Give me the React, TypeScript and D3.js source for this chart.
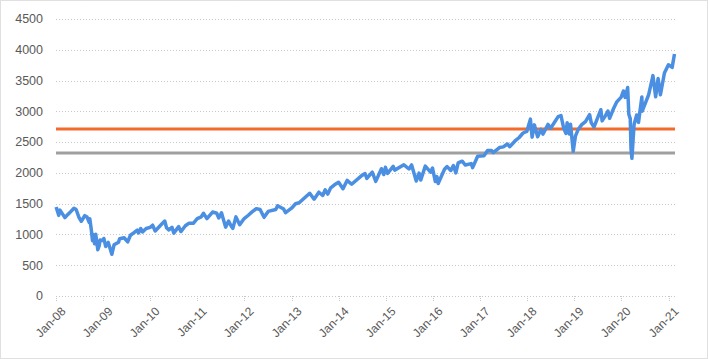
import React from "react";
import * as d3 from "d3";

const W = 708;
const H = 359;

const yTicks = [0, 500, 1000, 1500, 2000, 2500, 3000, 3500, 4000, 4500];
const xTickYears = [2008, 2009, 2010, 2011, 2012, 2013, 2014, 2015, 2016, 2017, 2018, 2019, 2020, 2021];

const refOrange = 2713;
const refGray = 2323;

const dates: string[] = [
  "2008-01-02","2008-01-22","2008-02-01","2008-02-15","2008-03-10","2008-03-31","2008-04-15","2008-05-19","2008-06-05","2008-06-27","2008-07-15","2008-07-31","2008-08-11","2008-08-29","2008-09-15","2008-09-19","2008-09-29","2008-10-10","2008-10-13","2008-10-27","2008-11-04","2008-11-20","2008-12-01","2008-12-08","2008-12-31",
  "2009-01-06","2009-01-20","2009-02-09","2009-03-09","2009-03-26","2009-04-30","2009-05-08","2009-06-12","2009-07-10","2009-07-31","2009-08-28","2009-09-22","2009-10-02","2009-10-19","2009-11-02","2009-11-30","2009-12-31",
  "2010-01-19","2010-02-08","2010-03-31","2010-04-23","2010-05-07","2010-05-25","2010-06-18","2010-07-02","2010-08-09","2010-08-26","2010-09-30","2010-10-29","2010-11-30","2010-12-31",
  "2011-01-31","2011-02-18","2011-03-16","2011-04-29","2011-05-31","2011-06-16","2011-07-07","2011-08-08","2011-08-31","2011-09-22","2011-10-03","2011-10-27","2011-11-25","2011-12-30",
  "2012-01-31","2012-02-29","2012-04-02","2012-05-01","2012-06-01","2012-07-03","2012-08-31","2012-09-14","2012-10-31","2012-11-15","2012-12-31",
  "2013-01-31","2013-02-28","2013-03-28","2013-05-21","2013-06-24","2013-07-31","2013-08-30","2013-09-18","2013-10-08","2013-10-31","2013-11-29","2013-12-31",
  "2014-02-03","2014-03-07","2014-04-11","2014-06-30","2014-07-24","2014-08-07","2014-09-18","2014-10-15","2014-11-28","2014-12-16","2014-12-29",
  "2015-01-15","2015-02-27","2015-03-11","2015-05-21","2015-06-30","2015-07-20","2015-08-25","2015-09-16","2015-09-29","2015-11-03","2015-12-14","2015-12-29",
  "2016-01-20","2016-02-01","2016-02-11","2016-03-31","2016-04-20","2016-05-19","2016-06-08","2016-06-27","2016-07-15","2016-08-15","2016-09-09","2016-10-24","2016-11-04","2016-12-13",
  "2017-01-31","2017-02-28","2017-03-31","2017-04-13","2017-05-31","2017-06-30","2017-07-31","2017-08-18","2017-09-29","2017-10-31","2017-11-30","2017-12-29",
  "2018-01-26","2018-02-08","2018-02-26","2018-03-23","2018-04-18","2018-05-03","2018-06-12","2018-07-02","2018-08-29","2018-09-20","2018-10-11","2018-10-29","2018-11-07","2018-11-23","2018-12-03","2018-12-24",
  "2019-01-10","2019-01-31","2019-02-28","2019-03-29","2019-04-30","2019-05-13","2019-06-03","2019-07-26","2019-08-05","2019-08-30","2019-09-19","2019-10-02","2019-10-31","2019-11-27","2019-12-31",
  "2020-01-17","2020-01-31","2020-02-19","2020-02-28","2020-03-10","2020-03-16","2020-03-23","2020-04-09","2020-04-29","2020-05-13","2020-06-08","2020-06-11","2020-07-31","2020-09-02","2020-09-23","2020-10-12","2020-10-30","2020-11-30","2020-12-31",
  "2021-01-29","2021-02-16"
];

const values: number[] = [
  1447,1310,1395,1350,1273,1323,1350,1426,1405,1278,1214,1267,1305,1283,1193,1255,1106,899,1003,848,1005,752,816,909,903,
  935,805,870,677,832,873,929,946,879,987,1029,1071,1025,1097,1042,1096,1115,
  1150,1056,1169,1217,1110,1074,1117,1022,1127,1047,1141,1183,1180,1258,
  1286,1343,1257,1364,1345,1268,1353,1119,1219,1129,1099,1285,1159,1258,
  1312,1366,1419,1406,1278,1374,1406,1465,1412,1353,1426,
  1498,1515,1569,1669,1573,1686,1633,1725,1656,1757,1806,1848,
  1742,1878,1815,1960,1988,1910,2011,1862,2068,1973,2091,
  1992,2105,2045,2131,2063,2129,1868,1996,1884,2110,2012,2078,
  1859,1940,1829,2060,2102,2040,2119,2001,2162,2190,2128,2151,2085,2271,
  2279,2364,2363,2329,2412,2423,2470,2425,2519,2575,2648,2674,
  2873,2581,2780,2588,2708,2630,2787,2726,2914,2931,2728,2641,2814,2633,2790,2351,
  2597,2704,2784,2834,2946,2812,2744,3026,2845,2926,3006,2887,3038,3154,3231,
  3330,3226,3386,2954,2882,2386,2237,2790,2940,2820,3232,3002,3271,3580,3237,3535,3270,3622,3756,
  3714,3932
];

const parse = d3.timeParse("%Y-%m-%d");

export default function App() {
  const left = 56;
  const right = 675;
  const top = 19;
  const bottom = 296;

  const x = d3
    .scaleTime()
    .domain([new Date(2008, 0, 1), new Date(2021, 1, 20)])
    .range([left, right]);
  const y = d3.scaleLinear().domain([0, 4500]).range([bottom, top]);

  const pts = dates.map((d, i) => ({ d: parse(d) as Date, v: values[i] }));
  const line = d3
    .line<{ d: Date; v: number }>()
    .x((p) => x(p.d))
    .y((p) => y(p.v));

  const fmt = d3.timeFormat("%b-%y");
  const font = "'Liberation Sans', Arial, sans-serif";

  return (
    <svg
      width={W}
      height={H}
      style={{ position: "absolute", left: 0, top: 0, background: "#fff" }}
    >
      <rect
        x={0.5}
        y={0.5}
        width={W - 1}
        height={H - 1}
        fill="none"
        stroke="#c0c0c0"
        strokeDasharray="1,1"
      />
      {yTicks.map((t) => (
        <g key={t}>
          <line
            x1={left}
            x2={right}
            y1={Math.round(y(t)) + 0.5}
            y2={Math.round(y(t)) + 0.5}
            stroke="#c8c8c8"
            strokeDasharray="1,2"
          />
          <text
            x={43}
            y={y(t)}
            dy="0.35em"
            textAnchor="end"
            fontFamily={font}
            fontSize={12.5}
            fill="#595959"
          >
            {t}
          </text>
        </g>
      ))}
      {xTickYears.map((yr) => {
        const d = new Date(yr, 0, 1);
        const px = Math.round(x(d)) + 0.5;
        return (
          <g key={yr}>
            <line
              x1={px}
              x2={px}
              y1={bottom}
              y2={bottom + 5}
              stroke="#c8c8c8"
              strokeDasharray="1,1"
            />
            <text
              transform={`translate(${px + 4},${bottom + 10}) rotate(-45)`}
              textAnchor="end"
              dy="0.7em"
              fontFamily={font}
              fontSize={12}
              fill="#595959"
            >
              {fmt(d)}
            </text>
          </g>
        );
      })}
      <line
        x1={left}
        x2={right}
        y1={y(refOrange)}
        y2={y(refOrange)}
        stroke="#f26b2a"
        strokeWidth={3}
      />
      <line
        x1={left}
        x2={right}
        y1={y(refGray)}
        y2={y(refGray)}
        stroke="#a0a0a0"
        strokeWidth={3}
      />
      <path
        d={line(pts) || ""}
        fill="none"
        stroke="#4a8fe2"
        strokeWidth={3.5}
        strokeLinejoin="round"
      />
    </svg>
  );
}
